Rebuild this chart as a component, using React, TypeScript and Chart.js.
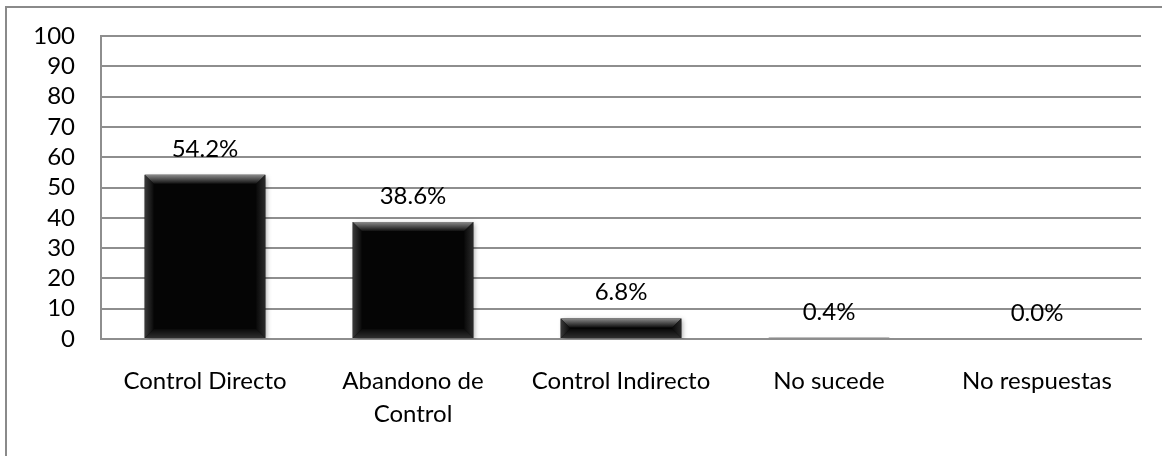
import React, { useEffect, useRef } from "react";
import { Chart, registerables } from "chart.js";

Chart.register(...registerables);

const categories: (string | string[])[] = [
  "Control Directo",
  ["Abandono de", "Control"],
  "Control Indirecto",
  "No sucede",
  "No respuestas",
];
const values: number[] = [54.2, 38.6, 6.8, 0.4, 0.0];
const yTicks: number[] = [0, 10, 20, 30, 40, 50, 60, 70, 80, 90, 100];

const FONT = "Lato, 'Open Sans', sans-serif";
const GRID = "#8e8e8e";

const bevelPlugin = {
  id: "bevel",
  beforeDatasetDraw(chart: any) {
    const ctx = chart.ctx;
    ctx.save();
    ctx.shadowColor = "rgba(0,0,0,0.35)";
    ctx.shadowBlur = 5;
    ctx.shadowOffsetX = 2;
    ctx.shadowOffsetY = 2;
  },
  afterDatasetDraw(chart: any) {
    const ctx = chart.ctx;
    ctx.restore();
    const meta = chart.getDatasetMeta(0);
    meta.data.forEach((bar: any) => {
      const { x, y, base, width } = bar.getProps(["x", "y", "base", "width"], true);
      const l = x - width / 2;
      const r = x + width / 2;
      const t = y;
      const b = base;
      const h = b - t;
      if (h < 0.5) return;
      const s = Math.min(9, h / 2);
      ctx.save();
      let g = ctx.createLinearGradient(0, t, 0, t + s);
      g.addColorStop(0, "#8a8a8a");
      g.addColorStop(1, "#111111");
      ctx.fillStyle = g;
      ctx.beginPath();
      ctx.moveTo(l, t);
      ctx.lineTo(r, t);
      ctx.lineTo(r - s, t + s);
      ctx.lineTo(l + s, t + s);
      ctx.closePath();
      ctx.fill();
      g = ctx.createLinearGradient(l, 0, l + s, 0);
      g.addColorStop(0, "#3a3a3a");
      g.addColorStop(1, "#0a0a0a");
      ctx.fillStyle = g;
      ctx.beginPath();
      ctx.moveTo(l, t);
      ctx.lineTo(l + s, t + s);
      ctx.lineTo(l + s, b - s);
      ctx.lineTo(l, b);
      ctx.closePath();
      ctx.fill();
      g = ctx.createLinearGradient(r, 0, r - s, 0);
      g.addColorStop(0, "#2a2a2a");
      g.addColorStop(1, "#0a0a0a");
      ctx.fillStyle = g;
      ctx.beginPath();
      ctx.moveTo(r, t);
      ctx.lineTo(r - s, t + s);
      ctx.lineTo(r - s, b - s);
      ctx.lineTo(r, b);
      ctx.closePath();
      ctx.fill();
      g = ctx.createLinearGradient(0, b, 0, b - s);
      g.addColorStop(0, "#2e2e2e");
      g.addColorStop(1, "#0a0a0a");
      ctx.fillStyle = g;
      ctx.beginPath();
      ctx.moveTo(l, b);
      ctx.lineTo(r, b);
      ctx.lineTo(r - s, b - s);
      ctx.lineTo(l + s, b - s);
      ctx.closePath();
      ctx.fill();
      ctx.restore();
    });
  },
};

const labelPlugin = {
  id: "valueLabels",
  afterDatasetsDraw(chart: any) {
    const ctx = chart.ctx;
    const meta = chart.getDatasetMeta(0);
    ctx.save();
    ctx.font = `24px ${FONT}`;
    ctx.fillStyle = "#000";
    ctx.textAlign = "center";
    ctx.textBaseline = "middle";
    meta.data.forEach((bar: any, i: number) => {
      const { x, y } = bar.getProps(["x", "y"], true);
      ctx.fillText(values[i].toFixed(1) + "%", x, y - 26);
    });
    ctx.restore();
  },
};

export default function App() {
  const ref = useRef<HTMLCanvasElement>(null);
  useEffect(() => {
    if (!ref.current) return;
    const chart = new Chart(ref.current, {
      type: "bar",
      data: {
        labels: categories,
        datasets: [
          {
            data: values,
            backgroundColor: "#050505",
            borderWidth: 0,
            barPercentage: 0.58,
            categoryPercentage: 1,
          },
        ],
      },
      options: {
        responsive: false,
        animation: false,
        layout: { padding: { left: 0, right: 21, top: 36, bottom: 0 } },
        plugins: { legend: { display: false }, tooltip: { enabled: false } },
        scales: {
          x: {
            grid: { display: false, drawTicks: false },
            border: { display: true, color: GRID, width: 2 },
            ticks: {
              color: "#000",
              padding: 26,
              maxRotation: 0,
              autoSkip: false,
              font: { family: FONT, size: 24, lineHeight: 1.375 },
            },
            afterFit: (s: any) => {
              s.height = 117;
              s.paddingLeft = 0;
              s.paddingRight = 0;
            },
          },
          y: {
            min: 0,
            max: 100,
            afterBuildTicks: (s: any) => {
              s.ticks = yTicks.map((v) => ({ value: v }));
            },
            grid: { color: GRID, lineWidth: 2, drawTicks: false },
            border: { display: true, color: GRID, width: 2 },
            ticks: {
              color: "#000",
              padding: 26,
              autoSkip: false,
              font: { family: FONT, size: 24 },
            },
            afterFit: (s: any) => {
              s.width = 101;
              s.paddingTop = 0;
              s.paddingBottom = 0;
            },
          },
        },
      },
      plugins: [bevelPlugin, labelPlugin],
    });
    return () => chart.destroy();
  }, []);
  return (
    <div style={{ position: "fixed", left: 0, top: 0, width: 1162, height: 456, background: "#fff", overflow: "hidden" }}>
      <div
        style={{
          position: "absolute",
          left: 5,
          top: 6,
          width: 1200,
          height: 500,
          borderLeft: "2px solid #8a8a8a",
          borderTop: "2px solid #8a8a8a",
        }}
      />
      <canvas ref={ref} width={1162} height={456} style={{ position: "absolute", left: 0, top: 0 }} />
    </div>
  );
}
